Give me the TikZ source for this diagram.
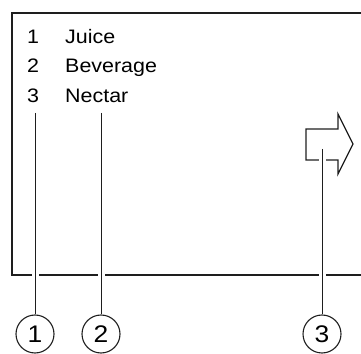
\documentclass[tikz,border=0pt]{standalone}
\usepackage{fontspec}
\setmainfont[FakeStretch=1.1]{Liberation Sans}
\usetikzlibrary{positioning}
\definecolor{ink}{RGB}{30,30,30}
\tikzset{
  frame/.style={draw=ink,line width=1.3pt},
  leader/.style={draw=ink,line width=1pt,preaction={draw=white,line width=7pt}},
  callout/.style={circle,draw=ink,line width=1.1pt,minimum size=38pt,inner sep=0pt,
    font=\fontsize{24}{24}\selectfont},
  entry/.style={anchor=base west,inner sep=0pt,font=\fontsize{19.5}{19.5}\selectfont},
}
\begin{document}
\begin{tikzpicture}[x=1pt,y=1pt]
  \useasboundingbox (0,0) rectangle (361,353);
  % display frame, open to the right
  \draw[frame] (361,340) -- (12,340) -- (12,78) -- (361,78);
  % list of products
  \node[entry] (num1) at (27,309) {1};
  \node[entry] (num2) at (27,280) {2};
  \node[entry] (num3) at (27,250) {3};
  \node[entry] (prod1) at (65,309) {Juice};
  \node[entry] (prod2) at (65,280) {Beverage};
  \node[entry] (prod3) at (65,250) {Nectar};
  % next-page arrow
  \draw[frame,line width=1.2pt] (306,224) -- (338,224) -- (338,239) -- (353,209)
    -- (338,179) -- (338,193) -- (306,193) -- cycle;
  % callouts
  \node[callout] (c1) at (35,19) {1};
  \node[callout] (c2) at (101,19) {2};
  \node[callout] (c3) at (322,19) {3};
  \coordinate (l1) at (35,240);
  \coordinate (l2) at (101,240);
  \coordinate (l3) at (322,204);
  \draw[leader] (l1) -- (c1);
  \draw[leader] (l2) -- (c2);
  \draw[leader] (l3) -- (c3);
\end{tikzpicture}
\end{document}
